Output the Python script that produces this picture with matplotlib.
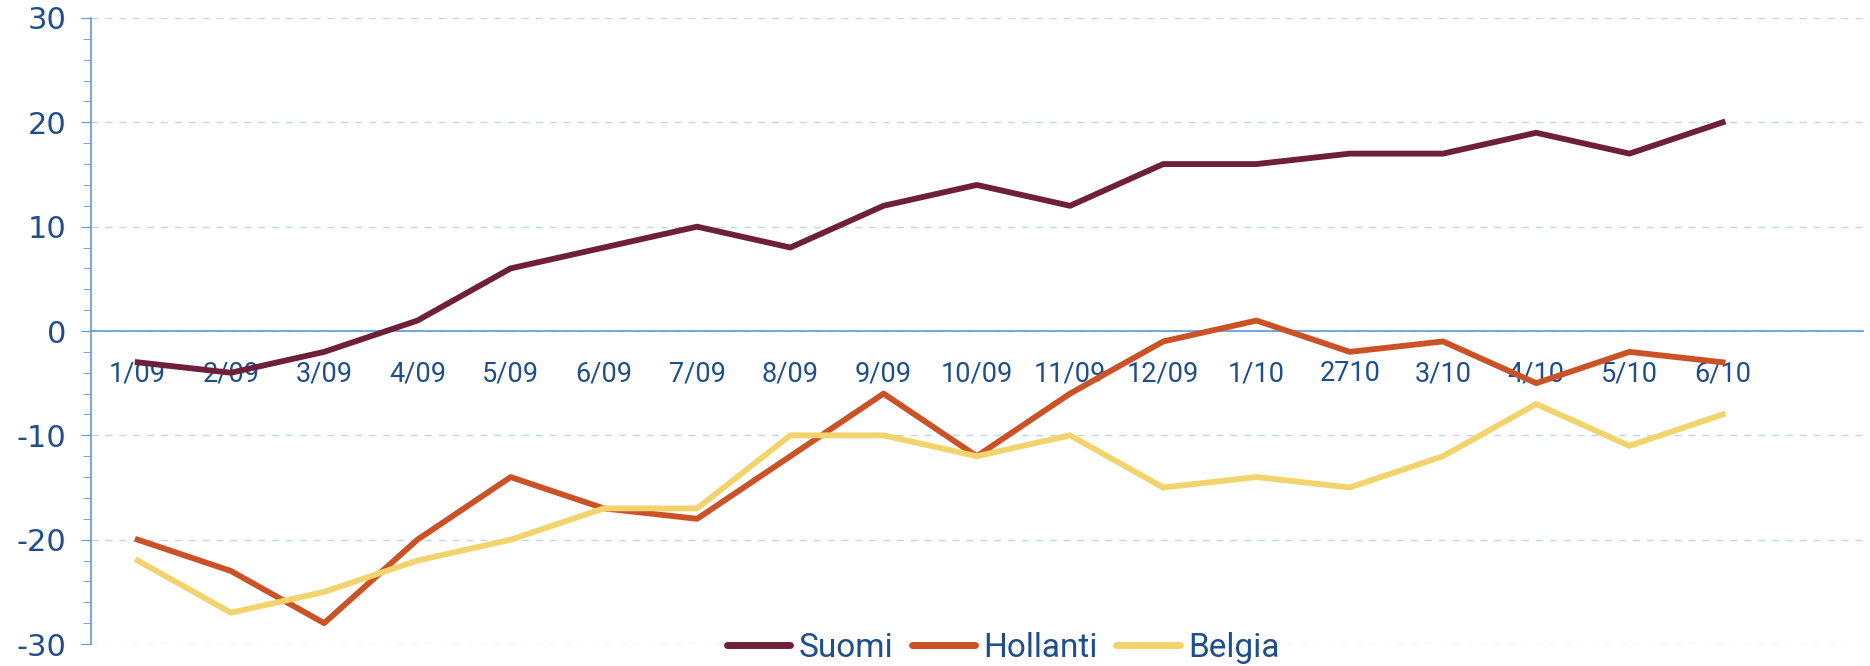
import numpy as np
import matplotlib
matplotlib.use("Agg")
import matplotlib.pyplot as plt
from matplotlib.ticker import MultipleLocator

plt.rcParams["axes.unicode_minus"] = False

# Data
months = ["1/09", "2/09", "3/09", "4/09", "5/09", "6/09", "7/09", "8/09", "9/09",
          "10/09", "11/09", "12/09", "1/10", "2710", "3/10", "4/10", "5/10", "6/10"]
suomi = [-3, -4, -2, 1, 6, 8, 10, 8, 12, 14, 12, 16, 16, 17, 17, 19, 17, 20]
hollanti = [-20, -23, -28, -20, -14, -17, -18, -12, -6, -12, -6, -1, 1, -2, -1, -5, -2, -3]
belgia = [-22, -27, -25, -22, -20, -17, -17, -10, -10, -12, -10, -15, -14, -15, -12, -7, -11, -8]

navy = "#1F4E8C"
axis_blue = "#5B9BD5"
grid_blue = "#BDD7EE"
label_font = ["Roboto", "DejaVu Sans"]

fig = plt.figure(figsize=(18.7, 6.66), dpi=100)
ax = fig.add_axes([0.0487, 0.033, 0.9473, 0.94])

x = np.arange(len(months))
ax.plot(x, suomi, color="#6E1F3A", lw=4.2, label="Suomi", zorder=3)
ax.plot(x, hollanti, color="#CB5227", lw=4.2, label="Hollanti", zorder=3)
ax.plot(x, belgia, color="#F3D46C", lw=4.2, label="Belgia", zorder=3)

ax.set_ylim(-30, 30)
ax.set_xlim(-0.5, len(months) + 0.5)
ax.yaxis.set_major_locator(MultipleLocator(10))
ax.yaxis.set_minor_locator(MultipleLocator(2))
ax.grid(axis="y", which="major", color=grid_blue, ls=(0, (5, 5)), lw=1)

for s in ["top", "right"]:
    ax.spines[s].set_visible(False)
ax.spines["left"].set_color(axis_blue)
ax.spines["left"].set_linewidth(1.2)
ax.spines["bottom"].set_position(("data", 0))
ax.spines["bottom"].set_color(axis_blue)
ax.spines["bottom"].set_linewidth(1.2)

ax.tick_params(axis="y", which="major", direction="out", length=7, color=axis_blue,
               labelsize=22, labelcolor=navy, pad=11)
ax.tick_params(axis="y", which="minor", direction="out", length=5.5, color=axis_blue)

ax.set_xticks(x)
ax.set_xticklabels(months, family=label_font, fontsize=19.5)
ax.tick_params(axis="x", length=0, labelcolor=navy, pad=21)

leg = ax.legend(loc="center", bbox_to_anchor=(0.515, -0.006), ncol=3, frameon=True,
                framealpha=1, edgecolor="none", handlelength=1.9,
                columnspacing=0.55, handletextpad=0.25, borderpad=0.1,
                prop={"family": label_font, "size": 24})
for t in leg.get_texts():
    t.set_color(navy)
for h in leg.get_lines():
    h.set_linewidth(5)
    h.set_solid_capstyle("round")

fig.savefig("out.png", dpi=100, facecolor="white")
